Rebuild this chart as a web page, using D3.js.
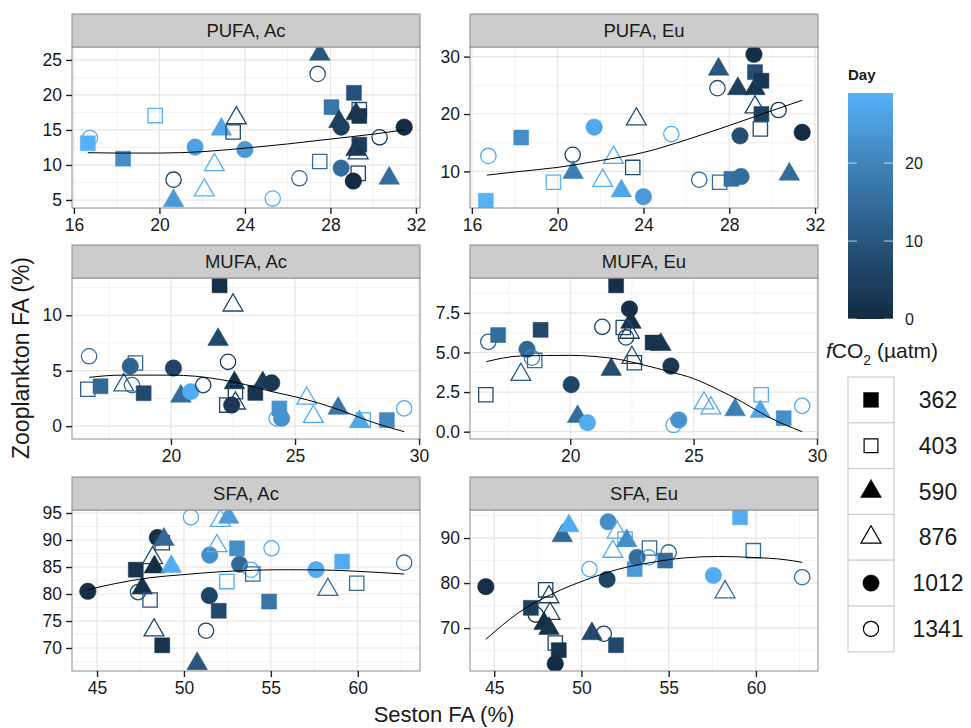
<!DOCTYPE html>
<html>
<head>
<meta charset="utf-8">
<script src="https://cdn.jsdelivr.net/npm/d3@7"></script>
<style>
  body { margin: 0; background: #fff; }
  text { font-family: "Liberation Sans", Arial, sans-serif; }
</style>
</head>
<body>
<div id="chart"></div>
<script>
// fCO2 treatments (legend order) and their symbols
const co2Levels = [362, 403, 590, 876, 1012, 1341];

// each point: [seston FA, zooplankton FA, fCO2, day]
const pufaAc = [
  [16.65, 13.1, 362, 29], [16.75, 13.85, 1341, 29], [18.3, 10.9, 362, 22], [19.8, 17.05, 403, 29],
  [20.66, 7.9, 1341, 5], [20.66, 4.9, 590, 24], [21.67, 12.55, 1012, 26], [22.1, 6.4, 876, 29],
  [22.57, 10.0, 876, 28], [22.9, 15.1, 590, 27], [23.6, 16.7, 876, 7], [23.45, 14.7, 403, 8],
  [24.0, 12.2, 1012, 24], [25.3, 5.2, 1341, 29], [26.55, 8.1, 1341, 15], [27.5, 25.8, 590, 10],
  [27.4, 23.0, 1341, 10], [27.5, 10.5, 403, 15], [28.05, 18.25, 362, 17], [28.4, 16.2, 590, 5],
  [28.5, 15.4, 1012, 5], [28.5, 9.55, 1012, 15], [29.1, 20.3, 362, 9], [29.35, 17.9, 403, 8],
  [29.35, 17.0, 362, 2], [29.2, 17.3, 590, 3], [29.35, 12.9, 362, 5], [29.2, 12.2, 590, 3],
  [29.3, 11.7, 876, 5], [29.3, 8.8, 403, 6], [29.07, 7.7, 1012, 0], [30.3, 13.95, 1341, 3],
  [31.45, 15.4, 1012, 0], [30.75, 8.1, 590, 15]
];
const pufaEu = [
  [16.65, 4.9, 362, 29], [16.77, 12.7, 1341, 28], [18.3, 15.9, 362, 22], [19.8, 8.1, 403, 29],
  [20.7, 12.9, 1341, 6], [20.72, 9.8, 590, 19], [21.7, 17.7, 1012, 27], [22.1, 8.4, 876, 29],
  [22.6, 12.4, 876, 28], [22.97, 6.6, 590, 27], [23.67, 19.1, 876, 8], [23.5, 10.7, 403, 8],
  [24.0, 5.6, 1012, 24], [25.3, 16.5, 1341, 28], [26.6, 8.55, 1341, 15], [27.5, 27.8, 590, 10],
  [27.45, 24.5, 1341, 8], [27.55, 8.1, 403, 15], [28.1, 8.7, 362, 16], [28.55, 9.1, 1012, 15],
  [28.4, 24.4, 590, 5], [28.5, 16.2, 1012, 8], [29.15, 30.4, 1012, 1], [29.2, 27.3, 362, 8],
  [29.5, 25.8, 362, 3], [29.2, 24.4, 590, 3], [29.2, 21.2, 876, 6], [29.5, 20.0, 362, 5],
  [29.45, 17.4, 403, 8], [30.3, 20.7, 1341, 4], [31.4, 16.8, 1012, 0], [30.8, 9.5, 590, 15]
];
const mufaAc = [
  [16.7, 6.3, 1341, 15], [16.65, 3.33, 403, 13], [17.16, 3.6, 362, 14], [18.36, 5.4, 1012, 13],
  [18.57, 5.7, 403, 14], [18.1, 3.7, 876, 13], [18.43, 3.7, 1341, 14], [18.9, 2.97, 362, 7],
  [20.1, 5.24, 1012, 6], [20.4, 2.7, 590, 15], [20.8, 3.1, 1012, 28], [21.3, 3.7, 1341, 5],
  [21.96, 12.7, 362, 1], [21.9, 7.8, 590, 7], [22.5, 10.9, 876, 7], [22.3, 5.8, 1341, 5],
  [22.56, 3.9, 590, 1], [22.6, 3.1, 403, 6], [22.25, 1.9, 403, 7], [22.45, 1.9, 1012, 3],
  [22.6, 2.06, 876, 5], [23.4, 3.0, 362, 2], [23.7, 3.9, 590, 4], [24.06, 3.9, 1012, 3],
  [24.26, 0.7, 1341, 28], [24.37, 1.6, 362, 23], [24.46, 0.7, 1012, 23], [25.47, 2.5, 876, 28],
  [25.74, 0.85, 876, 28], [26.74, 1.6, 590, 17], [27.75, 0.55, 403, 28], [27.6, 0.4, 590, 27],
  [28.7, 0.55, 362, 21], [29.4, 1.6, 1341, 28]
];
const mufaEu = [
  [16.68, 5.67, 1341, 14], [17.08, 6.1, 362, 15], [16.58, 2.33, 403, 8], [18.25, 5.2, 1012, 14],
  [18.45, 4.67, 1341, 20], [18.56, 4.5, 403, 15], [18.0, 3.6, 876, 10], [18.8, 6.43, 362, 7],
  [20.04, 2.97, 1012, 6], [20.3, 0.95, 590, 15], [20.7, 0.57, 1012, 28], [21.3, 6.62, 1341, 6],
  [21.86, 9.24, 362, 1], [21.66, 3.93, 590, 8], [22.4, 7.75, 1012, 1], [22.46, 6.9, 590, 1],
  [22.15, 6.58, 403, 6], [22.4, 6.26, 876, 6], [22.26, 5.95, 1341, 6], [22.5, 4.67, 876, 8],
  [22.6, 4.35, 403, 7], [23.34, 5.63, 362, 2], [23.67, 5.5, 590, 2], [24.08, 4.14, 1012, 3],
  [24.19, 0.42, 1341, 28], [24.4, 0.74, 1012, 23], [25.42, 1.8, 876, 28], [25.7, 1.48, 876, 28],
  [26.68, 1.38, 590, 19], [27.74, 2.33, 403, 28], [27.7, 1.27, 590, 27], [28.65, 0.85, 362, 22],
  [29.4, 1.63, 1341, 28]
];
const sfaAc = [
  [44.47, 80.5, 1012, 1], [47.36, 80.35, 1341, 6], [47.23, 84.5, 362, 2], [47.6, 81.1, 590, 2],
  [48.05, 78.9, 403, 10], [48.2, 86.7, 876, 7], [48.3, 85.0, 590, 1], [48.28, 73.3, 876, 6],
  [48.75, 70.5, 362, 2], [48.47, 90.45, 1012, 1], [48.75, 89.5, 403, 6], [48.85, 90.1, 590, 14],
  [49.27, 85.1, 590, 28], [50.4, 94.2, 1341, 28], [50.76, 67.1, 590, 10], [51.27, 73.2, 1341, 5],
  [51.46, 79.7, 1012, 6], [51.48, 87.2, 1012, 22], [51.9, 88.9, 876, 28], [52.1, 93.6, 876, 28],
  [52.57, 94.2, 590, 25], [52.0, 76.9, 362, 7], [52.47, 82.3, 403, 28], [53.05, 88.45, 362, 22],
  [53.2, 85.5, 1012, 14], [53.85, 84.5, 1341, 28], [53.96, 83.7, 403, 15], [55.04, 88.45, 1341, 28],
  [54.9, 78.6, 362, 17], [57.6, 84.5, 1012, 28], [58.28, 80.8, 876, 15], [59.1, 86.0, 362, 28],
  [59.94, 82.0, 403, 15], [62.67, 85.8, 1341, 15]
];
const sfaEu = [
  [44.52, 79.2, 1012, 1], [47.1, 74.5, 362, 5], [47.38, 73.0, 1341, 4], [47.95, 78.5, 403, 6],
  [48.14, 76.9, 876, 6], [48.2, 73.2, 876, 6], [47.86, 71.0, 590, 1], [48.14, 69.9, 590, 2],
  [48.5, 66.7, 403, 6], [48.7, 65.1, 362, 2], [48.5, 62.1, 1012, 0], [48.9, 90.5, 590, 14],
  [49.28, 92.7, 590, 28], [50.46, 83.1, 1341, 28], [50.6, 68.75, 590, 7], [51.28, 68.75, 1341, 5],
  [51.98, 66.2, 362, 7], [51.47, 80.8, 1012, 6], [51.53, 93.6, 1012, 22], [52.04, 91.25, 876, 28],
  [51.8, 87.0, 876, 28], [52.5, 89.8, 403, 28], [52.6, 89.4, 590, 22], [53.05, 83.1, 362, 24],
  [53.19, 85.7, 1012, 15], [53.85, 85.7, 1341, 28], [53.9, 87.8, 403, 15], [55.0, 86.8, 1341, 15],
  [54.8, 85.0, 362, 15], [57.56, 81.7, 1012, 28], [58.23, 78.0, 876, 15], [59.09, 94.6, 362, 28],
  [59.85, 87.2, 403, 15], [62.65, 81.3, 1341, 15]
];

// loess fits
const pufaAcFit = [[16.65, 11.75], [18, 11.7], [20, 11.7], [22, 11.9], [24, 12.4], [26, 13.0], [28, 13.7], [30, 14.4], [31.45, 15.0]];
const pufaEuFit = [[16.7, 9.35], [18, 9.9], [20, 10.7], [22, 11.9], [24, 13.3], [26, 15.5], [28, 18.0], [30, 20.6], [31.4, 22.4]];
const mufaAcFit = [[16.7, 4.4], [18, 4.6], [20, 4.6], [21, 4.5], [22, 4.2], [23, 3.75], [24, 3.15], [25, 2.65], [26, 2.05], [27, 1.3], [28, 0.45], [29.4, -0.5]];
const mufaEuFit = [[16.6, 4.42], [18, 4.78], [20, 4.82], [21, 4.75], [22, 4.56], [23, 4.2], [24, 3.8], [25, 3.35], [26, 2.65], [27, 1.85], [28, 0.95], [29.4, 0.0]];
const sfaAcFit = [[44.47, 80.8], [46, 81.9], [48, 83.0], [50, 83.6], [52, 84.1], [54, 84.4], [56, 84.5], [58, 84.45], [60, 84.2], [62.67, 83.7]];
const sfaEuFit = [[44.52, 67.5], [46.43, 73.5], [48.33, 77.6], [50.24, 80.7], [52.14, 83.1], [54.04, 84.6], [55.95, 85.6], [57.85, 85.9], [59.75, 85.7], [61.66, 85.2], [62.65, 84.6]];

const xTicksPufa = [16, 20, 24, 28, 32];
const xTicksMufa = [20, 25, 30];
const xTicksSfa = [45, 50, 55, 60];
const dayTicks = [0, 10, 20];

const panels = [
  { title: "PUFA, Ac", pts: pufaAc, fit: pufaAcFit, col: 0, row: 0, xt: xTicksPufa, yt: [5, 10, 15, 20, 25] },
  { title: "PUFA, Eu", pts: pufaEu, fit: pufaEuFit, col: 1, row: 0, xt: xTicksPufa, yt: [10, 20, 30] },
  { title: "MUFA, Ac", pts: mufaAc, fit: mufaAcFit, col: 0, row: 1, xt: xTicksMufa, yt: [0, 5, 10] },
  { title: "MUFA, Eu", pts: mufaEu, fit: mufaEuFit, col: 1, row: 1, xt: xTicksMufa, yt: [0, 2.5, 5, 7.5], fmt: d3.format(".1f") },
  { title: "SFA, Ac", pts: sfaAc, fit: sfaAcFit, col: 0, row: 2, xt: xTicksSfa, yt: [70, 75, 80, 85, 90, 95] },
  { title: "SFA, Eu", pts: sfaEu, fit: sfaEuFit, col: 1, row: 2, xt: xTicksSfa, yt: [70, 80, 90] }
];

const width = 971, height = 728;
const colX = [72, 470], panelW = 348;
const rowY = [14, 245, 477], stripH = 33, plotH = 161;

const svg = d3.select("#chart").append("svg")
  .attr("width", width)
  .attr("height", height);

const allDays = [pufaAc, pufaEu, mufaAc, mufaEu, sfaAc, sfaEu].flat().map(d => d[3]);
const dayMax = d3.max(allDays);
const color = d3.scaleSequential(d3.interpolateLab("#132B43", "#56B1F7")).domain([0, dayMax]);

const shapeOf = {
  362: { type: d3.symbolSquare, size: 225, filled: true },
  403: { type: d3.symbolSquare, size: 205, filled: false },
  590: { type: d3.symbolTriangle, size: 185, filled: true },
  876: { type: d3.symbolTriangle, size: 170, filled: false },
  1012: { type: d3.symbolCircle, size: 215, filled: true },
  1341: { type: d3.symbolCircle, size: 185, filled: false }
};

// ggplot-like 5% expansion
function expand(ext) {
  const pad = (ext[1] - ext[0]) * 0.05;
  return [ext[0] - pad, ext[1] + pad];
}

function minorBreaks(ticks, dom) {
  const step = ticks[1] - ticks[0];
  const out = [];
  for (let v = ticks[0] - step / 2; v <= dom[1]; v += step) {
    if (v >= dom[0]) out.push(v);
  }
  return out;
}

panels.forEach(p => {
  const x0 = colX[p.col], y0 = rowY[p.row] + stripH;
  const xs = p.pts.map(d => d[0]).concat(p.fit.map(d => d[0]));
  const ys = p.pts.map(d => d[1]).concat(p.fit.map(d => d[1]));
  const xDom = expand(d3.extent(xs)), yDom = expand(d3.extent(ys));
  const x = d3.scaleLinear().domain(xDom).range([0, panelW]);
  const y = d3.scaleLinear().domain(yDom).range([plotH, 0]);

  const g = svg.append("g").attr("transform", `translate(${x0},${y0})`);

  // strip
  svg.append("rect")
    .attr("x", x0).attr("y", rowY[p.row])
    .attr("width", panelW).attr("height", stripH)
    .attr("fill", "#cccccc").attr("stroke", "#8c8c8c").attr("stroke-width", 1);
  svg.append("text")
    .attr("x", x0 + panelW / 2).attr("y", rowY[p.row] + stripH / 2 + 6)
    .attr("text-anchor", "middle").attr("font-size", 18.5).attr("fill", "#1a1a1a")
    .text(p.title);

  g.append("rect").attr("width", panelW).attr("height", plotH).attr("fill", "#fff");

  // grid
  const grid = g.append("g");
  minorBreaks(p.xt, xDom).forEach(v => grid.append("line")
    .attr("x1", x(v)).attr("x2", x(v)).attr("y1", 0).attr("y2", plotH)
    .attr("stroke", "#f4f4f4").attr("stroke-width", 1));
  minorBreaks(p.yt, yDom).forEach(v => grid.append("line")
    .attr("x1", 0).attr("x2", panelW).attr("y1", y(v)).attr("y2", y(v))
    .attr("stroke", "#f4f4f4").attr("stroke-width", 1));
  p.xt.filter(v => v >= xDom[0] && v <= xDom[1]).forEach(v => grid.append("line")
    .attr("x1", x(v)).attr("x2", x(v)).attr("y1", 0).attr("y2", plotH)
    .attr("stroke", "#e6e6e6").attr("stroke-width", 1.2));
  p.yt.forEach(v => grid.append("line")
    .attr("x1", 0).attr("x2", panelW).attr("y1", y(v)).attr("y2", y(v))
    .attr("stroke", "#e6e6e6").attr("stroke-width", 1.2));

  // points
  const clip = "clip" + p.col + p.row;
  g.append("clipPath").attr("id", clip).append("rect").attr("width", panelW).attr("height", plotH);
  const pg = g.append("g").attr("clip-path", `url(#${clip})`);

  pg.selectAll("path.pt")
    .data(p.pts)
    .enter()
    .append("path")
    .attr("class", "pt")
    .attr("transform", d => `translate(${x(d[0])},${y(d[1])})`)
    .attr("d", d => d3.symbol().type(shapeOf[d[2]].type).size(shapeOf[d[2]].size)())
    .attr("fill", d => shapeOf[d[2]].filled ? color(d[3]) : "none")
    .attr("stroke", d => color(d[3]))
    .attr("stroke-width", d => shapeOf[d[2]].filled ? 0.5 : 1.3);

  // smooth
  pg.append("path")
    .attr("d", d3.line().x(d => x(d[0])).y(d => y(d[1])).curve(d3.curveMonotoneX)(p.fit))
    .attr("fill", "none").attr("stroke", "#000").attr("stroke-width", 1);

  g.append("rect").attr("width", panelW).attr("height", plotH)
    .attr("fill", "none").attr("stroke", "#8c8c8c").attr("stroke-width", 1);

  // axes
  const yAxis = g.append("g").call(d3.axisLeft(y).tickValues(p.yt).tickSize(6).tickPadding(4)
    .tickFormat(p.fmt || d3.format("d")));
  const xAxis = g.append("g").attr("transform", `translate(0,${plotH})`)
    .call(d3.axisBottom(x).tickValues(p.xt).tickSize(6).tickPadding(5).tickFormat(d3.format("d")));
  [xAxis, yAxis].forEach(a => {
    a.select(".domain").remove();
    a.selectAll(".tick line").attr("stroke", "#222").attr("stroke-width", 1.4);
    a.selectAll(".tick text").attr("font-size", 17.5).attr("fill", "#1a1a1a")
      .style("font-family", '"Liberation Sans", Arial, sans-serif');
  });
});

// axis titles
svg.append("text")
  .attr("x", 444).attr("y", 722)
  .attr("text-anchor", "middle").attr("font-size", 22).attr("fill", "#1a1a1a")
  .text("Seston FA (%)");
svg.append("text")
  .attr("transform", "translate(29,358) rotate(-90)")
  .attr("text-anchor", "middle").attr("font-size", 23).attr("fill", "#1a1a1a")
  .text("Zooplankton FA (%)");

// colour bar legend
const barX = 848, barW = 45, barTop = 93, barH = 226;
const defs = svg.append("defs");
const grad = defs.append("linearGradient").attr("id", "dayGrad")
  .attr("x1", 0).attr("y1", 1).attr("x2", 0).attr("y2", 0);
d3.range(0, 1.0001, 0.1).forEach(t => grad.append("stop")
  .attr("offset", t).attr("stop-color", color(t * dayMax)));

svg.append("text").attr("x", barX).attr("y", 80)
  .attr("font-size", 15).attr("font-weight", "bold").attr("fill", "#1a1a1a").text("Day");
svg.append("rect").attr("x", barX).attr("y", barTop).attr("width", barW).attr("height", barH)
  .attr("fill", "url(#dayGrad)");
const dayY = d3.scaleLinear().domain([0, dayMax]).range([barTop + barH, barTop]);
dayTicks.forEach(v => {
  svg.append("line").attr("x1", barX).attr("x2", barX + 9).attr("y1", dayY(v)).attr("y2", dayY(v))
    .attr("stroke", "#fff").attr("stroke-opacity", 0.7);
  svg.append("line").attr("x1", barX + barW - 9).attr("x2", barX + barW).attr("y1", dayY(v)).attr("y2", dayY(v))
    .attr("stroke", "#fff").attr("stroke-opacity", 0.7);
  svg.append("text").attr("x", barX + barW + 12).attr("y", dayY(v) + 6)
    .attr("font-size", 16).attr("fill", "#1a1a1a").text(v);
});

// shape legend
const legTitle = svg.append("text").attr("x", 826).attr("y", 358).attr("font-size", 21).attr("fill", "#1a1a1a");
legTitle.append("tspan").attr("font-style", "italic").text("f");
legTitle.append("tspan").text("CO");
legTitle.append("tspan").attr("font-size", 14).attr("dy", 7).text("2");
legTitle.append("tspan").attr("dy", -7).text(" (µatm)");

const keyX = 848, keyTop = 377, keyH = 45.8, keyW = 46;
const keyShape = {
  362: { type: d3.symbolSquare, size: 220 },
  403: { type: d3.symbolSquare, size: 190 },
  590: { type: d3.symbolTriangle, size: 190 },
  876: { type: d3.symbolTriangle, size: 175 },
  1012: { type: d3.symbolCircle, size: 210 },
  1341: { type: d3.symbolCircle, size: 180 }
};
co2Levels.forEach((lv, i) => {
  const cy = keyTop + keyH * i + keyH / 2;
  svg.append("rect").attr("x", keyX).attr("y", keyTop + keyH * i).attr("width", keyW).attr("height", keyH)
    .attr("fill", "#fff").attr("stroke", "#d0d0d0").attr("stroke-width", 1.2);
  svg.append("path")
    .attr("transform", `translate(${keyX + keyW / 2},${cy})`)
    .attr("d", d3.symbol().type(keyShape[lv].type).size(keyShape[lv].size)())
    .attr("fill", shapeOf[lv].filled ? "#000" : "none")
    .attr("stroke", "#000").attr("stroke-width", shapeOf[lv].filled ? 0.5 : 1.2);
  svg.append("text").attr("x", 938).attr("y", cy + 8)
    .attr("text-anchor", "middle").attr("font-size", 23).attr("fill", "#1a1a1a").text(lv);
});
</script>
</body>
</html>
